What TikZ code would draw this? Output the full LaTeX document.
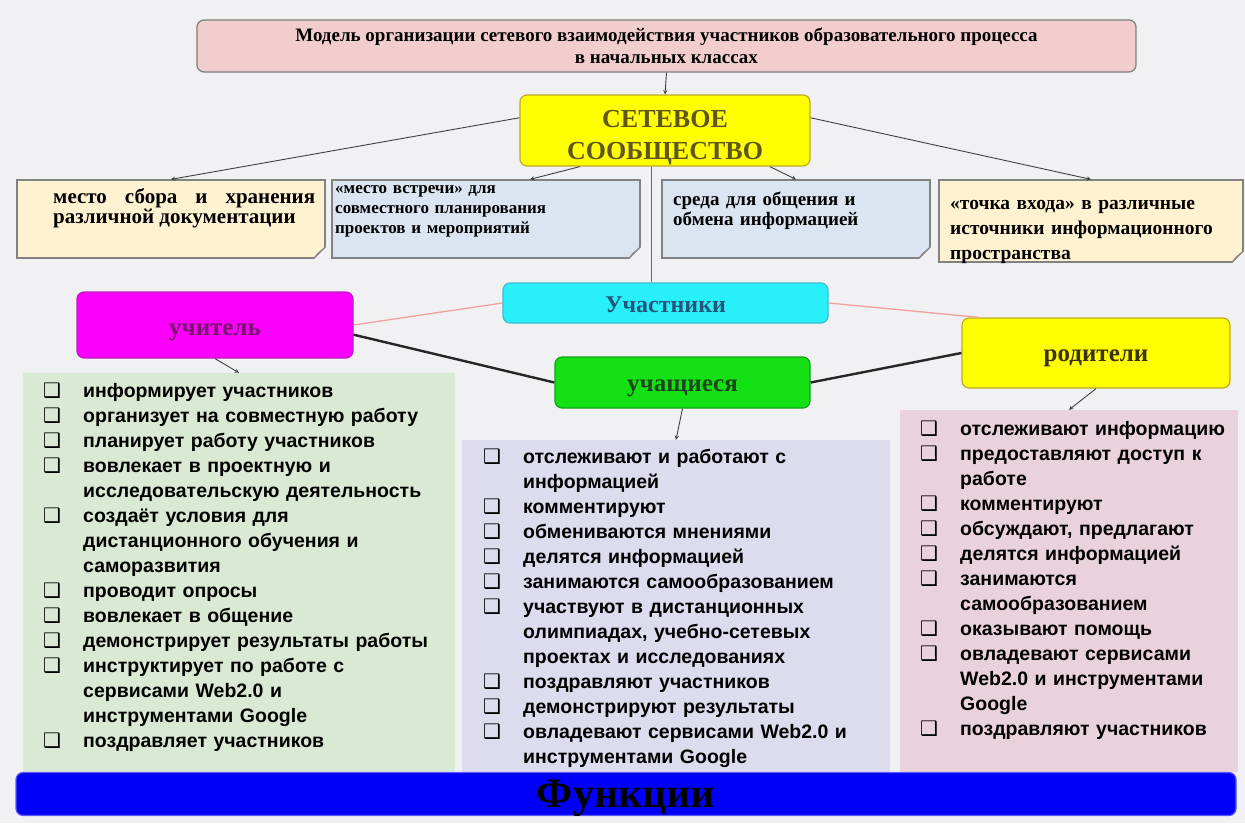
\documentclass[tikz,border=0pt]{standalone}
\usepackage{fontspec}
\setmainfont{Liberation Serif}
\newfontfamily\listfont{Liberation Sans}
\newfontfamily\boxfont{DejaVu Sans}
\usetikzlibrary{arrows,positioning,calc}
\definecolor{bgc}{RGB}{241,241,243}
\definecolor{titlec}{RGB}{242,205,205}
\definecolor{titledraw}{RGB}{125,125,125}
\definecolor{yellc}{RGB}{255,255,0}
\definecolor{yelldraw}{RGB}{190,170,40}
\definecolor{nettext}{RGB}{95,85,25}
\definecolor{noteyel}{RGB}{255,242,208}
\definecolor{noteblue}{RGB}{218,229,241}
\definecolor{notedraw}{RGB}{130,130,130}
\definecolor{folddark}{RGB}{205,205,205}
\definecolor{cyanc}{RGB}{40,240,250}
\definecolor{cyandraw}{RGB}{60,190,210}
\definecolor{cyantext}{RGB}{35,85,120}
\definecolor{magc}{RGB}{250,0,250}
\definecolor{magdraw}{RGB}{190,30,190}
\definecolor{magtext}{RGB}{120,20,110}
\definecolor{greenc}{RGB}{20,225,20}
\definecolor{greendraw}{RGB}{20,160,20}
\definecolor{greentext}{RGB}{25,70,25}
\definecolor{partext}{RGB}{60,50,10}
\definecolor{tlistc}{RGB}{217,233,211}
\definecolor{plistc}{RGB}{221,219,238}
\definecolor{rlistc}{RGB}{234,210,221}
\definecolor{barc}{RGB}{0,0,250}
\definecolor{bardraw}{RGB}{90,90,255}
\definecolor{pinkl}{RGB}{240,160,160}
\tikzstyle{arrow} = [->,>=stealth,color=black!75,line width=0.9pt]
\tikzstyle{link} = [color=black!60,line width=0.9pt]
\tikzstyle{pinklink} = [color=pinkl,line width=1.3pt]
\tikzstyle{boldlink} = [color=black!85,line width=2.4pt]
\tikzset{
  head/.style={rounded corners=7pt, line width=1.2pt, align=center, inner sep=0pt},
  note/.style={draw=notedraw, line width=1.3pt, inner sep=0pt},
  notetext/.style={anchor=north west, inner sep=0pt, align=left, text width=#1},
  role/.style={rounded corners=7pt, line width=1.2pt, inner sep=0pt, text depth=0pt,
    font=\fontsize{25}{30}\selectfont\bfseries},
  listbg/.style={inner sep=0pt},
  listtext/.style={anchor=north west, inner sep=0pt, align=left, text width=440pt,
    font=\listfont\bfseries\fontsize{19.5}{25}\selectfont}
}
\newcommand{\litem}[1]{\par\noindent\hangindent=40pt\hangafter=1\makebox[40pt][l]{\boxfont\fontsize{20}{20}\selectfont ❑}#1}
\newcommand{\notefold}[1]{%
  \fill[bgc] ($(#1.south east)+(-12.5,1)$) -- ($(#1.south east)+(1,1)$) -- ($(#1.south east)+(1,-12.5)$) -- cycle;
  \filldraw[fill=folddark, draw=notedraw, line width=1pt] ($(#1.south east)+(-12,0)$) -- ($(#1.south east)+(0,-12)$) -- ($(#1.south east)+(-8,-5)$) -- cycle;}

\begin{document}
\begin{tikzpicture}[x=1pt, y=-1pt]
\useasboundingbox (0,0) rectangle (1245,823);
\fill[bgc] (0,0) rectangle (1245,823);

% Title and network
\node[head, draw=titledraw, fill=titlec, minimum width=939, minimum height=52,
  font=\fontsize{19}{22}\selectfont\bfseries] (title) at (666.5,46)
  {Модель организации сетевого взаимодействия участников образовательного процесса\\в начальных классах};
\node[head, draw=yelldraw, fill=yellc, minimum width=290, minimum height=71] (net) at (665,130.5) {};
\node[align=center, inner sep=0pt, text=nettext, font=\fontsize{26}{32}\selectfont\bfseries] (netlabel)
  at ($(net.center)+(0,7)$) {СЕТЕВОЕ\\СООБЩЕСТВО};

% Notes
\node[note, fill=noteyel, minimum width=308, minimum height=78] (docs) at (171,219) {};
\node[note, fill=noteblue, minimum width=308, minimum height=78] (meet) at (486,219) {};
\node[note, fill=noteblue, minimum width=268, minimum height=78] (talk) at (796,219) {};
\node[note, fill=noteyel, minimum width=304, minimum height=82] (entry) at (1091,221) {};
\notefold{docs}
\notefold{meet}
\notefold{talk}
\notefold{entry}
\node[notetext=262pt, align=justify, font=\fontsize{21}{20}\selectfont\bfseries] (docst) at (53,188)
  {место сбора и хранения\linebreak различной документации};
\node[notetext=300pt, font=\fontsize{17}{20}\selectfont\bfseries] (meett) at (335,185)
  {«место встречи» для\\совместного планирования\\проектов и мероприятий};
\node[notetext=255pt, font=\fontsize{19}{20}\selectfont\bfseries] (talkt) at (673,192)
  {среда для общения и\\обмена информацией};
\node[notetext=295pt, font=\fontsize{19.5}{25}\selectfont\bfseries] (entryt) at (950,200)
  {«точка входа» в различные\\источники информационного\\пространства};

% Participants
\node[role, draw=cyandraw, fill=cyanc, text=cyantext, minimum width=325, minimum height=40,
  text height=19pt, font=\fontsize{24}{28}\selectfont\bfseries] (members) at (665.5,303) {Участники};
\node[role, draw=magdraw, fill=magc, text=magtext, minimum width=276, minimum height=66,
  text height=21pt] (teacher) at (215,325) {учитель};
\node[role, draw=greendraw, fill=greenc, text=greentext, minimum width=255, minimum height=51,
  text height=17pt] (pupils) at (682.5,382.5) {учащиеся};
\node[role, draw=yelldraw, fill=yellc, text=partext, minimum width=268, minimum height=70,
  text height=16pt] (parents) at (1096,353) {родители};

% Lists
\node[listbg, fill=tlistc, minimum width=432, minimum height=399] (tlist) at (239,572.5) {};
\node[listbg, fill=plistc, minimum width=428, minimum height=332] (plist) at (676,606) {};
\node[listbg, fill=rlistc, minimum width=338, minimum height=362] (rlist) at (1069,591) {};

\node[listtext] (tlistt) at (43,372) {%
\litem{информирует участников}
\litem{организует на совместную работу}
\litem{планирует работу участников}
\litem{вовлекает в проектную и\newline исследовательскую деятельность}
\litem{создаёт условия для\newline дистанционного обучения и\newline саморазвития}
\litem{проводит опросы}
\litem{вовлекает в общение}
\litem{демонстрирует результаты работы}
\litem{инструктирует по работе с\newline сервисами Web2.0 и\newline инструментами Google}
\litem{поздравляет участников}\par};

\node[listtext] (plistt) at (483,438) {%
\litem{отслеживают и работают с\newline информацией}
\litem{комментируют}
\litem{обмениваются мнениями}
\litem{делятся информацией}
\litem{занимаются самообразованием}
\litem{участвуют в дистанционных\newline олимпиадах, учебно-сетевых\newline проектах и исследованиях}
\litem{поздравляют участников}
\litem{демонстрируют результаты}
\litem{овладевают сервисами Web2.0 и\newline инструментами Google}\par};

\node[listtext] (rlistt) at (920,410) {%
\litem{отслеживают информацию}
\litem{предоставляют доступ к\newline работе}
\litem{комментируют}
\litem{обсуждают, предлагают}
\litem{делятся информацией}
\litem{занимаются\newline самообразованием}
\litem{оказывают помощь}
\litem{овладевают сервисами\newline Web2.0 и инструментами\newline Google}
\litem{поздравляют участников}\par};

% Bottom bar
\node[head, draw=bardraw, fill=barc, minimum width=1220, minimum height=43, text depth=0pt,
  font=\fontsize{42}{44}\selectfont\bfseries] (func) at (626,794) {Функции};

% Connectors
\draw[arrow] (title.south) -- (net.north);
\draw[arrow] (net.175) -- (docs.north);
\draw[arrow] (net.-157) -- (meet.42);
\draw[arrow] (net.-19) -- (talk.north);
\draw[arrow] (net.5) -- (entry.north);
\draw[link] (net.-110) -- (net.-110 |- members.north);
\draw[pinklink] (teacher.east) -- (members.west);
\draw[pinklink] (members.east) -- (parents.163);
\draw[boldlink] (teacher.-4) -- (pupils.west);
\draw[boldlink] (pupils.east) -- (parents.west);
\draw[arrow] (teacher.south) -- (tlist.north);
\draw[arrow] (pupils.south) -- (plist.north);
\draw[arrow] (parents.south) -- (rlist.north);
\end{tikzpicture}
\end{document}
